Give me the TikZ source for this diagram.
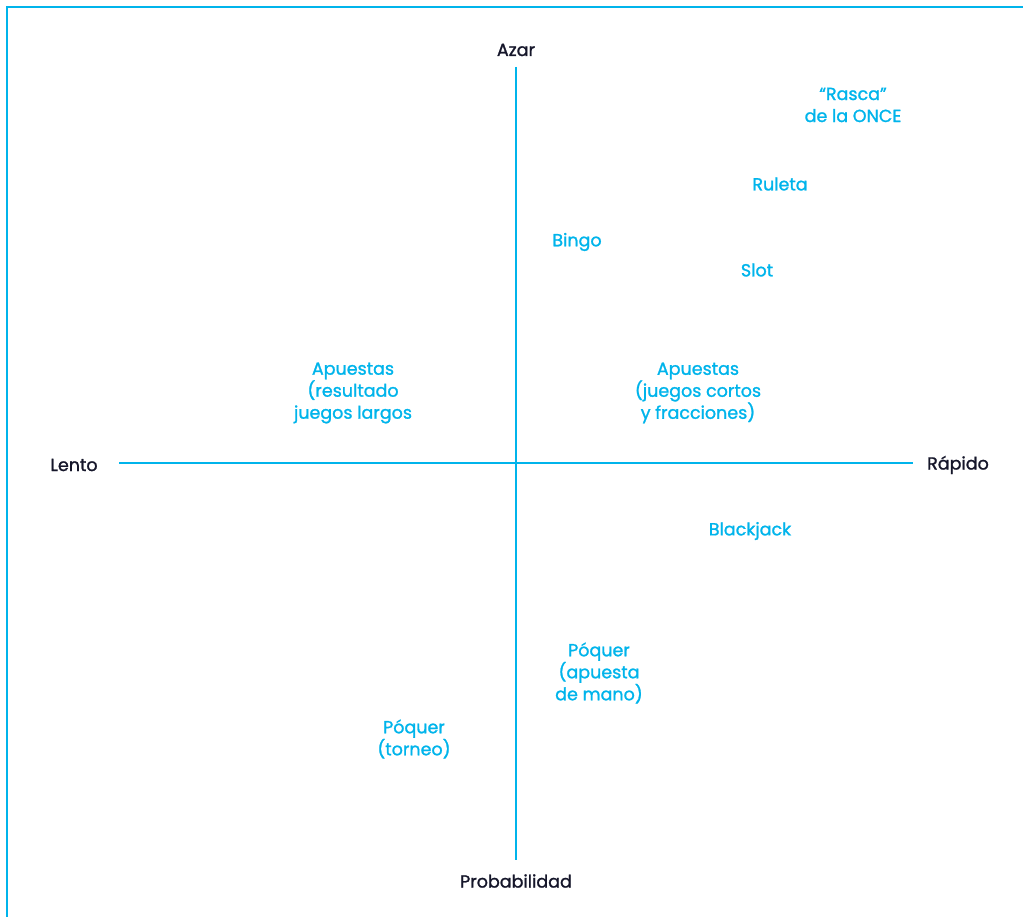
\documentclass[tikz,border=0pt]{standalone}
\usepackage{fontspec}
\setmainfont{Poppins}[FakeBold=1.3]
\definecolor{cy}{HTML}{00B4EB}
\definecolor{ink}{HTML}{15162A}
\begin{document}
\begin{tikzpicture}[x=1pt,y=-1pt,
  axis/.style={draw=cy,line width=2.8pt},
  ax/.style={text=ink,font=\fontsize{17.5}{22}\selectfont,inner sep=0pt,yshift=-2pt},
  game/.style={text=cy,font=\fontsize{17.5}{22}\selectfont,inner sep=0pt,align=center,yshift=-2pt}]
\useasboundingbox (0,0) rectangle (1023,917);
\draw[axis] (7,917) -- (7,7) -- (1023,7);
\coordinate (vt) at (516,67);
\coordinate (vb) at (516,860);
\coordinate (hl) at (119,463);
\coordinate (hr) at (913,463);
\draw[axis] (vt) -- (vb);
\draw[axis] (hl) -- (hr);
\node[ax] (azar) at (516,48) {Azar};
\node[ax] (lento) at (74,463) {Lento};
\node[ax] (rapido) at (958,463) {Rápido};
\node[ax] (prob) at (516,879) {Probabilidad};
\node[game] (rasca) at (853,103) {“Rasca”\\de la ONCE};
\node[game] (ruleta) at (780,182) {Ruleta};
\node[game] (bingo) at (577,240) {Bingo};
\node[game] (slot) at (757,268) {Slot};
\node[game] (apl) at (353,391) {Apuestas\\(resultado\\juegos largos};
\node[game] (apc) at (698,391) {Apuestas\\(juegos cortos\\y fracciones)};
\node[game] (bj) at (750,529) {Blackjack};
\node[game] (pm) at (599,671) {Póquer\\(apuesta\\de mano)};
\node[game] (pt) at (414,737) {Póquer\\(torneo)};
\end{tikzpicture}
\end{document}
